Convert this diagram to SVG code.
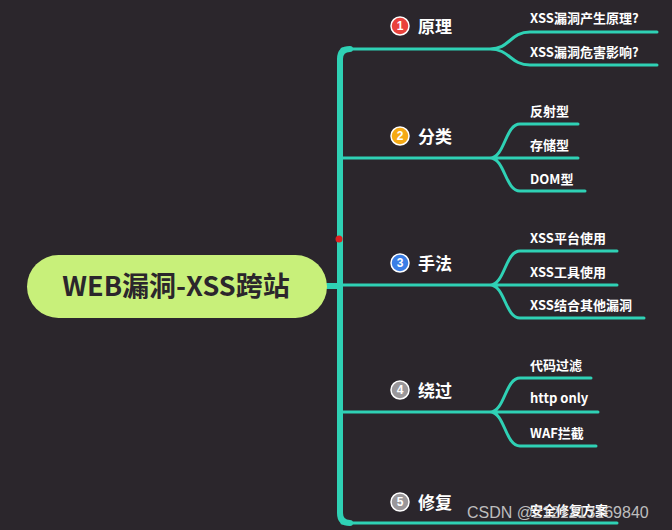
<svg xmlns="http://www.w3.org/2000/svg" width="672" height="530" viewBox="0 0 672 530">
<style>
.l{fill:none;stroke:#2fd1b5;stroke-width:3;stroke-linecap:round}
.t{fill:#ffffff;font-family:"Noto Sans CJK SC","Liberation Sans",sans-serif;font-weight:bold;font-size:13px}
.b{fill:#ffffff;font-family:"Noto Sans CJK SC","Liberation Sans",sans-serif;font-weight:bold;font-size:17px}
.n{fill:#ffffff;font-family:"Liberation Sans",sans-serif;font-weight:bold;font-size:12px;text-anchor:middle}
</style>
<rect width="672" height="530" fill="#2b262c"/>
<g id="connectors">
<path class="l" style="stroke-width:6" d="M327 286 H340"/>
<path class="l" style="stroke-width:6" d="M350 49 Q340 49 340 59 V513 Q340 523 350 523"/>
<path class="l" d="M342 49 H490 C510 49 510 32 530 32 H657 M490 49 C510 49 510 65 530 65 H657"/>
<path class="l" d="M342 158 H490 C505 158 505 124 520 124 H578 M490 158 H578 M490 158 C505 158 505 191 520 191 H585"/>
<path class="l" d="M342 285 H490 C505 285 505 251 520 251 H617 M490 285 H617 M490 285 C505 285 505 318 520 318 H644"/>
<path class="l" d="M342 412 H490 C505 412 505 378 520 378 H591 M490 412 H598 M490 412 C505 412 505 446 520 446 H596"/>
<path class="l" d="M342 523 H617"/>
</g>
<g id="center">
<rect x="27" y="255" width="300" height="63" rx="31.5" fill="#c8f07a"/>
<text x="176" y="296" text-anchor="middle" font-family="'Noto Sans CJK SC','Liberation Sans',sans-serif" font-weight="bold" font-size="27" fill="#2b262c">WEB漏洞-XSS跨站</text>
</g>
<g id="b1"><circle cx="400" cy="26" r="9" fill="#e9423c" stroke="#fff" stroke-width="1.5"/><text class="n" x="400" y="30">1</text><text class="b" x="418" y="33">原理</text></g>
<g id="b2"><circle cx="400" cy="136" r="9" fill="#f5a914" stroke="#fff" stroke-width="1.5"/><text class="n" x="400" y="140">2</text><text class="b" x="418" y="143">分类</text></g>
<g id="b3"><circle cx="400" cy="263" r="9" fill="#3a7ee6" stroke="#fff" stroke-width="1.5"/><text class="n" x="400" y="267">3</text><text class="b" x="418" y="270">手法</text></g>
<g id="b4"><circle cx="400" cy="390" r="9" fill="#9a979a" stroke="#fff" stroke-width="1.5"/><text class="n" x="400" y="394">4</text><text class="b" x="418" y="397">绕过</text></g>
<g id="b5"><circle cx="400" cy="502" r="9" fill="#9a979a" stroke="#fff" stroke-width="1.5"/><text class="n" x="400" y="506">5</text><text class="b" x="418" y="509">修复</text></g>
<g id="leaves">
<text class="t" x="530" y="23">XSS漏洞产生原理?</text>
<text class="t" x="530" y="57">XSS漏洞危害影响?</text>
<text class="t" x="530" y="116">反射型</text>
<text class="t" x="530" y="150">存储型</text>
<text class="t" x="530" y="184">DOM型</text>
<text class="t" x="530" y="243">XSS平台使用</text>
<text class="t" x="530" y="277">XSS工具使用</text>
<text class="t" x="530" y="310">XSS结合其他漏洞</text>
<text class="t" x="530" y="370">代码过滤</text>
<text class="t" x="530" y="403">http only</text>
<text class="t" x="530" y="438">WAF拦截</text>
<text class="t" x="530" y="515">安全修复方案</text>
</g>
<circle cx="339" cy="239" r="3.5" fill="#e02020"/>
<text x="467" y="518" font-family="'Liberation Sans',sans-serif" font-size="16" fill="#d8d8d8" opacity="0.85">CSDN @2121213169840</text>
</svg>
